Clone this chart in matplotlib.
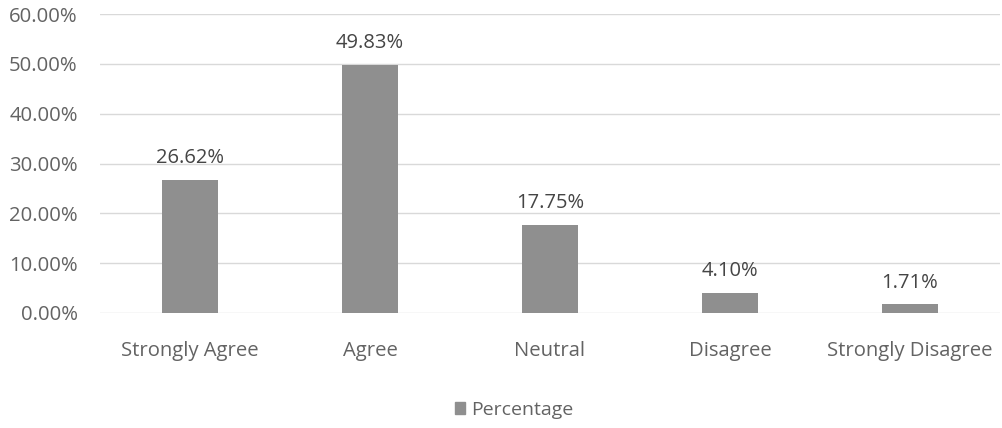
import matplotlib
matplotlib.use("Agg")
import matplotlib.pyplot as plt
from matplotlib.patches import Patch

categories = ["Strongly Agree", "Agree", "Neutral", "Disagree", "Strongly Disagree"]
percentages = [26.62, 49.83, 17.75, 4.10, 1.71]
y_ticks = [0, 10, 20, 30, 40, 50, 60]
series_name = "Percentage"

plt.rcParams["font.family"] = ["Open Sans", "DejaVu Sans"]

fig = plt.figure(figsize=(10.02, 4.28), dpi=100)
ax = fig.add_axes([100 / 1002, 1 - 313 / 428, 900 / 1002, 299 / 428])

bar_color = "#8f8f8f"
x = range(len(categories))
ax.bar(x, percentages, width=0.31, color=bar_color, zorder=3)

for xi, v in zip(x, percentages):
    ax.text(xi, v + 2.4, f"{v:.2f}%", ha="center", va="bottom",
            fontsize=14.5, color="#454545")

ax.set_xlim(-0.5, len(categories) - 0.5)
ax.set_ylim(0, 60)
ax.set_yticks(y_ticks)
ax.set_yticklabels([f"{t:.2f}%" for t in y_ticks])
ax.set_xticks(list(x))
ax.set_xticklabels(categories)

ax.grid(axis="y", color="#d9d9d9", linewidth=1, zorder=0)
for s in ax.spines.values():
    s.set_visible(False)
ax.tick_params(axis="both", length=0, labelsize=14.6, labelcolor="#636363")
ax.tick_params(axis="y", pad=16)
ax.tick_params(axis="x", pad=20)

fig.legend(handles=[Patch(color=bar_color, label=series_name)],
           loc="center", bbox_to_anchor=(514 / 1002, 1 - 410 / 428),
           frameon=False, fontsize=14, labelcolor="#636363",
           handlelength=0.55, handleheight=0.55, handletextpad=0.3)

fig.savefig("out.png", dpi=100, facecolor="white")
